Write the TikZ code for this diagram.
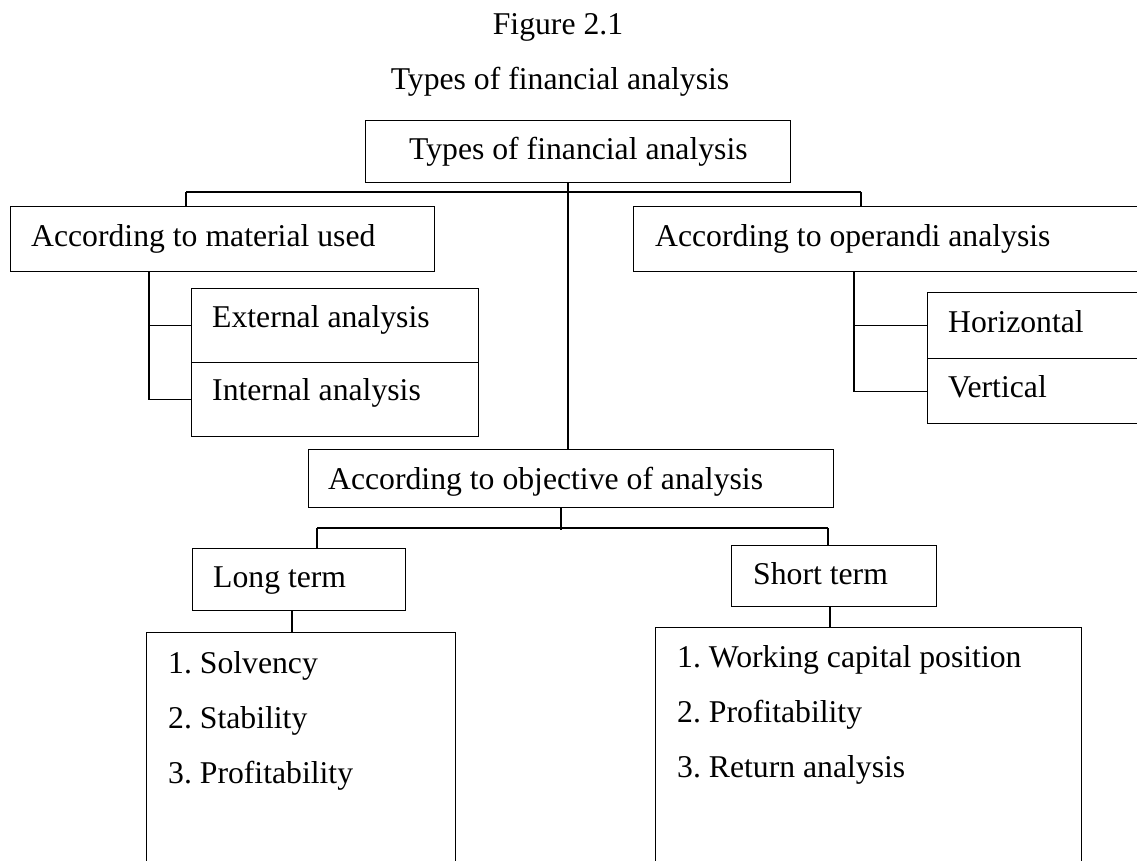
\documentclass[tikz,border=0pt]{standalone}
\usepackage{fontspec}
\setmainfont{Liberation Serif}
\begin{document}
\frenchspacing
\begin{tikzpicture}[x=1pt,y=-1pt,
  box/.style={draw,line width=1.3pt,inner sep=0pt,anchor=north west},
  txt/.style={anchor=base west,inner sep=0pt,font=\fontsize{31.7}{38}\selectfont},
  conn/.style={line width=1.3pt}]
\useasboundingbox (0,0) rectangle (1137,861);
% titles
\node[txt,anchor=base] (fig) at (558,35) {Figure 2.1};
\node[txt,anchor=base] (ttl) at (560,90) {Types of financial analysis};
% boxes
\node[box,minimum width=425pt,minimum height=62pt] (top) at (365,120) {};
\node[txt] (tTop) at (409,160) {Types of financial analysis};
\node[box,minimum width=424pt,minimum height=65pt] (mat) at (10,206) {};
\node[txt] (tMat) at (31,246) {According to material used};
\node[box,minimum width=287pt,minimum height=74pt] (ext) at (191,288) {};
\node[txt] (tExt) at (212,327) {External analysis};
\node[box,minimum width=287pt,minimum height=74pt] (int) at (191,362) {};
\node[txt] (tInt) at (212,400) {Internal analysis};
\node[box,minimum width=530pt,minimum height=65pt] (oper) at (633,206) {};
\node[txt] (tOper) at (655,246) {According to operandi analysis};
\node[box,minimum width=240pt,minimum height=66pt] (hor) at (927,292) {};
\node[txt] (tHor) at (948,332) {Horizontal};
\node[box,minimum width=240pt,minimum height=65pt] (vert) at (927,358) {};
\node[txt] (tVert) at (948,397) {Vertical};
\node[box,minimum width=525pt,minimum height=58pt] (obj) at (308,449) {};
\node[txt] (tObj) at (328,489) {According to objective of analysis};
\node[box,minimum width=213pt,minimum height=62pt] (long) at (192,548) {};
\node[txt] (tLong) at (213,587) {Long term};
\node[box,minimum width=205pt,minimum height=61pt] (short) at (731,545) {};
\node[txt] (tShort) at (753,584) {Short term};
\node[box,minimum width=309pt,minimum height=260pt] (llist) at (146,632) {};
\node[txt] (l1) at (168,673) {1. Solvency};
\node[txt] (l2) at (168,728) {2. Stability};
\node[txt] (l3) at (168,783) {3. Profitability};
\node[box,minimum width=426pt,minimum height=260pt] (slist) at (655,627) {};
\node[txt] (s1) at (677,667) {1. Working capital position};
\node[txt] (s2) at (677,722) {2. Profitability};
\node[txt] (s3) at (677,777) {3. Return analysis};
% connectors
\coordinate (tv) at (568,0);
\draw[conn] (top.south -| tv) -- (obj.north -| tv);
\coordinate (bl) at (186,192);
\coordinate (br) at (861,192);
\draw[conn] (bl) -- (br);
\draw[conn] (bl) -- (bl |- mat.north);
\draw[conn] (br) -- (br |- oper.north);
\coordinate (lv) at (149,0);
\draw[conn] (mat.south -| lv) |- (ext.west);
\draw[conn] (mat.south -| lv) |- (int.west);
\coordinate (rv) at (854,0);
\draw[conn] (oper.south -| rv) |- (hor.west);
\draw[conn] (oper.south -| rv) |- (vert.west);
\coordinate (ov) at (561,530);
\draw[conn] (obj.south -| ov) -- (ov);
\coordinate (obL) at (317,528);
\coordinate (obR) at (828,528);
\draw[conn] (obL) -- (obR);
\draw[conn] (obL) -- (obL |- long.north);
\draw[conn] (obR) -- (obR |- short.north);
\coordinate (lg) at (292,0);
\draw[conn] (long.south -| lg) -- (llist.north -| lg);
\coordinate (sg) at (830,0);
\draw[conn] (short.south -| sg) -- (slist.north -| sg);
\end{tikzpicture}
\end{document}
